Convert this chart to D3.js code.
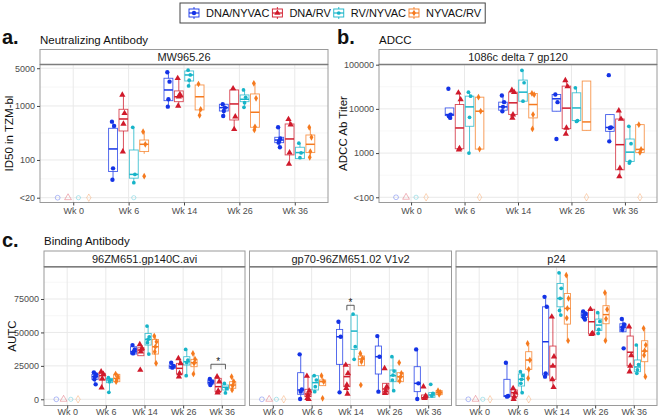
<!DOCTYPE html>
<html><head><meta charset="utf-8">
<script src="https://cdn.jsdelivr.net/npm/d3@7"></script>
<style>body{margin:0;background:#fff;} svg{display:block;font-family:"Liberation Sans",Arial,sans-serif;}</style>
</head><body>
<svg id="chart" width="659" height="417"></svg>
<script>
const groups = ["DNA/NYVAC","DNA/RV","RV/NYVAC","NYVAC/RV"];
const weeks = ["Wk 0","Wk 6","Wk 14","Wk 26","Wk 36"];
const groupColors = ["#1433e6","#d01a2b","#17b4c8","#f57a1f"];

const nabTicks = [20,100,1000,5000];
const nabTickLabels = ["<20","100","1000","5000"];
const adccTicks = [100,1000,10000,100000];
const adccTickLabels = ["<100","1000","10000","100000"];
const bindTicks = [0,25000,50000,75000];
const bindTickLabels = ["0","25000","50000","75000"];

// [week, group, lower whisker, q1, median, q3, upper whisker]
const nabBoxes = [
["Wk 6","DNA/NYVAC",43,61,160,386,512],["Wk 6","DNA/RV",143,344,574,868,1600],
["Wk 6","RV/NYVAC",38,46,54,153,403],["Wk 6","NYVAC/RV",130,143,195,234,334],
["Wk 14","DNA/NYVAC",970,1253,1978,3260,4210],["Wk 14","DNA/RV",1000,1200,1480,1900,3260],
["Wk 14","RV/NYVAC",2350,2900,3750,4450,4600],["Wk 14","NYVAC/RV",671,844,1480,2450,2630],
["Wk 26","DNA/NYVAC",653,807,930,1075,1100],["Wk 26","DNA/RV",370,550,1090,1980,2125],
["Wk 26","RV/NYVAC",945,1200,1330,1600,1980],["Wk 26","NYVAC/RV",360,403,765,1670,2630],
["Wk 36","DNA/NYVAC",172,209,234,263,403],["Wk 36","DNA/RV",84,124,245,464,567],
["Wk 36","RV/NYVAC",104,106,137,172,204],["Wk 36","NYVAC/RV",112,137,195,290,403]
];
const nabPoints = [
["Wk 6","DNA/NYVAC",[512,427,70,43]],["Wk 6","DNA/RV",[1600,733,464,143]],
["Wk 6","RV/NYVAC",[403,54,38]],["Wk 6","NYVAC/RV",[334,195,50]],
["Wk 14","DNA/NYVAC",[4210,2820,1330,970]],["Wk 14","DNA/RV",[3260,1645,1480,1000]],
["Wk 14","RV/NYVAC",[4600,3750,3000,2350]],["Wk 14","NYVAC/RV",[2550,867,671]],
["Wk 26","DNA/NYVAC",[1075,930,807,653]],["Wk 26","DNA/RV",[2100,634,370]],
["Wk 26","RV/NYVAC",[1980,1450,1150,945]],["Wk 26","NYVAC/RV",[2630,1388,410,360]],
["Wk 36","DNA/NYVAC",[403,250,225,209,172]],["Wk 36","DNA/RV",[567,450,137,84]],
["Wk 36","RV/NYVAC",[204,135,110]],["Wk 36","NYVAC/RV",[403,263,143,112]]
];
const nabOpen = [["Wk 0","DNA/NYVAC",20],["Wk 0","DNA/RV",20],["Wk 0","RV/NYVAC",20],["Wk 0","NYVAC/RV",20],["Wk 6","RV/NYVAC",20]];

const adccBoxes = [
["Wk 6","DNA/NYVAC",6240,7050,7430,10500,10500],["Wk 6","DNA/RV",1190,1253,3700,12540,23100],
["Wk 6","RV/NYVAC",1000,4040,11100,19400,23900],["Wk 6","NYVAC/RV",1230,1230,8850,18400,18400],
["Wk 14","DNA/NYVAC",8850,9330,11100,14200,20100],["Wk 14","DNA/RV",6240,7430,13700,23900,26600],
["Wk 14","RV/NYVAC",14900,14900,23900,44800,74300],["Wk 14","NYVAC/RV",3510,6240,12540,22300,22300],
["Wk 26","DNA/NYVAC",8850,8850,16900,21200,21200],["Wk 26","DNA/RV",2700,3570,10400,32700,44000],
["Wk 26","RV/NYVAC",5200,5430,10500,23100,30000],["Wk 26","NYVAC/RV",3270,3270,5070,42600,42600],
["Wk 36","DNA/NYVAC",1840,3100,3800,7430,7430],["Wk 36","DNA/RV",295,418,1550,5900,9150],
["Wk 36","RV/NYVAC",593,647,1050,2080,4040],["Wk 36","NYVAC/RV",1000,1030,1210,4400,4400]
];
const adccPoints = [
["Wk 6","DNA/NYVAC",[28500,7430,7050,6800,6240]],["Wk 6","DNA/RV",[23100,16300,1270,1190]],
["Wk 6","RV/NYVAC",[23900,19400,6460,1000]],["Wk 6","NYVAC/RV",[18400,8850,1230]],
["Wk 14","DNA/NYVAC",[20100,14200,11100,8850]],["Wk 14","DNA/RV",[26600,23900,7430,6240]],
["Wk 14","RV/NYVAC",[74300,39000,14900]],["Wk 14","NYVAC/RV",[22300,21000,7430,3510]],
["Wk 26","DNA/NYVAC",[21200,14200,2080]],["Wk 26","DNA/RV",[44000,32000,3700,2700]],
["Wk 26","RV/NYVAC",[30000,5430,5200]],
["Wk 36","DNA/NYVAC",[58000,3800,3700,1840]],["Wk 36","DNA/RV",[9150,5900,456,295]],
["Wk 36","RV/NYVAC",[4040,1630,647,593]],["Wk 36","NYVAC/RV",[4400,1210,1030]]
];
const adccOpen = [["Wk 0","DNA/NYVAC",100],["Wk 0","DNA/RV",100],["Wk 0","RV/NYVAC",100],["Wk 0","NYVAC/RV",100],
["Wk 6","NYVAC/RV",100],["Wk 26","NYVAC/RV",100],["Wk 36","NYVAC/RV",100]];

const gp140Boxes = [
["Wk 6","DNA/NYVAC",11200,14930,16900,18660,20150],["Wk 6","DNA/RV",8700,14430,17660,19400,20650],
["Wk 6","RV/NYVAC",5220,12440,14430,15670,16170],["Wk 6","NYVAC/RV",13190,13190,15670,18660,19400],
["Wk 14","DNA/NYVAC",33840,33840,35580,39300,40550],["Wk 14","DNA/RV",32590,32590,36820,38560,41050],
["Wk 14","RV/NYVAC",33840,40550,44780,49260,54740],["Wk 14","NYVAC/RV",26870,33840,39300,44780,47270],
["Wk 26","DNA/NYVAC",23140,23140,24380,25630,27370],["Wk 26","DNA/RV",16920,18910,23140,26870,30600],
["Wk 26","RV/NYVAC",17660,25630,28110,31850,37320],["Wk 26","NYVAC/RV",18910,24380,27370,29860,34330],
["Wk 36","DNA/NYVAC",10200,11440,12690,14430,15670],["Wk 36","DNA/RV",4980,5720,9450,15670,17420],
["Wk 36","RV/NYVAC",4470,6950,8970,10690,12400],["Wk 36","NYVAC/RV",6450,8220,10690,13150,16900]
];
const gp140Points = [
["Wk 6","DNA/NYVAC",[20150,18660,16900,14930,11200]],["Wk 6","DNA/RV",[20650,18900,15400,8700]],
["Wk 6","RV/NYVAC",[16170,14430,13200,5220]],["Wk 6","NYVAC/RV",[18900,16900,14430,13190]],
["Wk 14","DNA/NYVAC",[40550,37320,35580,34330]],["Wk 14","DNA/RV",[41050,38070,35580,21900]],
["Wk 14","RV/NYVAC",[54740,46770,44780,42290,33840]],["Wk 14","NYVAC/RV",[47270,43040,39300,35580,26870]],
["Wk 26","DNA/NYVAC",[27370,24880,23640]],["Wk 26","DNA/RV",[30600,26870,19400,16920]],
["Wk 26","RV/NYVAC",[37320,29360,27370,17660]],["Wk 26","NYVAC/RV",[34330,29860,26870,18910]],
["Wk 36","DNA/NYVAC",[15170,13190,11940,10700]],["Wk 36","DNA/RV",[16920,13190,6220,4980]],
["Wk 36","RV/NYVAC",[11900,8000,4800]],["Wk 36","NYVAC/RV",[16900,13150,10200,7000]]
];
const gp140Open = [["Wk 0","DNA/NYVAC",0],["Wk 0","DNA/RV",0],["Wk 0","RV/NYVAC",0],["Wk 0","NYVAC/RV",0]];
const gp140Brackets = [["Wk 36","DNA/NYVAC","RV/NYVAC",26200,"*"]];

const v1v2Boxes = [
["Wk 6","DNA/NYVAC",250,3730,6970,19900,33590],["Wk 6","DNA/RV",0,1990,3980,7460,17420],
["Wk 6","RV/NYVAC",4980,6970,12440,17660,18160],["Wk 6","NYVAC/RV",10200,10200,13190,14430,17660],
["Wk 14","DNA/NYVAC",5220,26120,46770,52250,57970],["Wk 14","DNA/RV",3980,9450,16920,26120,26120],
["Wk 14","RV/NYVAC",29860,37320,51000,62950,63690],["Wk 14","NYVAC/RV",25130,25130,30100,32340,34330],
["Wk 26","DNA/NYVAC",5720,18910,31850,39810,47270],["Wk 26","DNA/RV",3980,3980,7710,11940,11940],
["Wk 26","RV/NYVAC",6470,13190,17660,21900,31850],["Wk 26","NYVAC/RV",13190,13190,16920,19900,19900],
["Wk 36","DNA/NYVAC",250,5720,11940,24380,37320],["Wk 36","DNA/RV",250,250,1240,3230,3230],
["Wk 36","RV/NYVAC",1490,1490,3230,4980,4980],["Wk 36","NYVAC/RV",3480,3480,4980,6470,6470]
];
const v1v2Points = [
["Wk 6","DNA/NYVAC",[33590,7460,5720,250]],["Wk 6","DNA/RV",[17420,6220,3230,750,0]],
["Wk 6","RV/NYVAC",[17660,14430,9450,5720]],["Wk 6","NYVAC/RV",[17660,13190,750]],
["Wk 14","DNA/NYVAC",[57970,46770,5220]],["Wk 14","DNA/RV",[25630,19400,10700,8210,3980]],
["Wk 14","RV/NYVAC",[63690,39300,29860]],["Wk 14","NYVAC/RV",[34330,30600,28110,10700]],
["Wk 26","DNA/NYVAC",[47270,31850,5720]],["Wk 26","DNA/RV",[23140,9450,6470,4480]],
["Wk 26","RV/NYVAC",[31850,21150,18160,14430,6470]],["Wk 26","NYVAC/RV",[27370,19400,16420,13680]],
["Wk 36","DNA/NYVAC",[37320,11940,250]],["Wk 36","DNA/RV",[9450,2490,750]],
["Wk 36","RV/NYVAC",[11200,4480,2490]],["Wk 36","NYVAC/RV",[6470,5220,3730]]
];
const v1v2Open = [["Wk 0","DNA/NYVAC",0],["Wk 0","DNA/RV",0],["Wk 0","RV/NYVAC",0],["Wk 0","NYVAC/RV",0]];
const v1v2Brackets = [["Wk 14","DNA/RV","RV/NYVAC",70300,"*"]];

const p24Boxes = [
["Wk 6","DNA/NYVAC",1990,1990,2490,14930,27370],["Wk 6","DNA/RV",0,1990,4980,6970,8210],
["Wk 6","RV/NYVAC",4980,9950,14930,18910,20650],["Wk 6","NYVAC/RV",15670,22390,29360,35580,41800],
["Wk 14","DNA/NYVAC",16920,18160,43040,69170,76630],["Wk 14","DNA/RV",8960,14930,24880,39810,61700],
["Wk 14","RV/NYVAC",62950,69170,75390,86580,94540],["Wk 14","NYVAC/RV",43790,56230,67920,79120,92800],
["Wk 26","DNA/NYVAC",59710,61210,62950,64690,65680],["Wk 26","DNA/RV",48770,48770,58000,67300,67300],
["Wk 26","RV/NYVAC",49260,51500,55500,60000,64760],["Wk 26","NYVAC/RV",43820,56500,63300,70000,79720],
["Wk 36","DNA/NYVAC",50000,50500,54000,56500,60000],["Wk 36","DNA/RV",20640,25000,35200,47300,54300],
["Wk 36","RV/NYVAC",19440,20650,24200,29400,40600],["Wk 36","NYVAC/RV",16900,28110,36000,43800,53100]
];
const p24Points = [
["Wk 6","DNA/NYVAC",[27370,2490,1990]],["Wk 6","DNA/RV",[8210,4980,1990,0]],
["Wk 6","RV/NYVAC",[20650,17660,14930,11940,4980]],["Wk 6","NYVAC/RV",[41800,29360,22390,15670]],
["Wk 14","DNA/NYVAC",[76630,69170,19400,16920]],["Wk 14","DNA/RV",[61700,31850,24880,14930,8960]],
["Wk 14","RV/NYVAC",[94540,83000,75390,66420,62950]],["Wk 14","NYVAC/RV",[92800,75390,67920,60700,43790]],
["Wk 26","DNA/NYVAC",[65680,64190,62950,61210,59710]],["Wk 26","DNA/RV",[67300,49260,48770]],
["Wk 26","RV/NYVAC",[64760,58230,52240,49260]],["Wk 26","NYVAC/RV",[79720,67180,60210,43820]],
["Wk 36","DNA/NYVAC",[60000,56000,54000,52000,38100]],["Wk 36","DNA/RV",[54300,32800,25000,20640]],
["Wk 36","RV/NYVAC",[40600,26000,22000,19440]],["Wk 36","NYVAC/RV",[53100,40600,36340,33000,16900]]
];
const p24Open = [["Wk 0","DNA/NYVAC",0],["Wk 0","DNA/RV",0],["Wk 0","RV/NYVAC",0],["Wk 0","NYVAC/RV",0],["Wk 6","NYVAC/RV",0]];

// ---------- drawing ----------
const svg = d3.select("#chart");
const color = d3.scaleOrdinal().domain(groups).range(groupColors);
const shape = d3.scaleOrdinal().domain(groups).range([d3.symbolCircle, d3.symbolTriangle, d3.symbolCircle, d3.symbolDiamond]);
const shapeSize = d3.scaleOrdinal().domain(groups).range([15, 17, 11, 13]);
const jit = [-1.1, 1.1, 0, -0.6, 0.7];

function drawPanel(c) {
  const g = svg.append("g");
  const x = d3.scalePoint().domain(weeks).range([c.x0, c.x1]).padding(0.6);
  const step = x.step();
  const dx = d3.scalePoint().domain(groups).range([-0.28125 * step, 0.28125 * step]);
  const y = c.scale.range([c.y1, c.y0]);
  const bw = 0.16 * step;

  g.append("rect").attr("x", c.x0).attr("y", c.y0).attr("width", c.x1 - c.x0).attr("height", c.y1 - c.y0).attr("fill", "#fff");
  g.selectAll(".mn").data(c.minor).join("line")
    .attr("x1", c.x0).attr("x2", c.x1).attr("y1", d => y(d)).attr("y2", d => y(d))
    .attr("stroke", "#f2f2f2").attr("stroke-width", 0.6);
  g.selectAll(".mj").data(c.ticks).join("line")
    .attr("x1", c.x0).attr("x2", c.x1).attr("y1", d => y(d)).attr("y2", d => y(d))
    .attr("stroke", "#e9e9e9").attr("stroke-width", 1);
  g.selectAll(".vx").data(weeks).join("line")
    .attr("x1", d => x(d)).attr("x2", d => x(d)).attr("y1", c.y0).attr("y2", c.y1)
    .attr("stroke", "#e9e9e9").attr("stroke-width", 1);

  const bx = g.selectAll(".box").data(c.boxes).join("g");
  bx.append("line")
    .attr("x1", d => x(d[0]) + dx(d[1])).attr("x2", d => x(d[0]) + dx(d[1]))
    .attr("y1", d => y(d[2])).attr("y2", d => y(d[6]))
    .attr("stroke", d => color(d[1])).attr("stroke-opacity", 0.85).attr("stroke-width", 0.9);
  bx.append("rect")
    .attr("x", d => x(d[0]) + dx(d[1]) - bw / 2).attr("width", bw)
    .attr("y", d => y(d[5])).attr("height", d => Math.max(0.5, y(d[3]) - y(d[5])))
    .attr("fill", "#fff").attr("stroke", d => color(d[1])).attr("stroke-opacity", 0.8).attr("stroke-width", 0.9);
  bx.append("line")
    .attr("x1", d => x(d[0]) + dx(d[1]) - bw / 2).attr("x2", d => x(d[0]) + dx(d[1]) + bw / 2)
    .attr("y1", d => y(d[4])).attr("y2", d => y(d[4]))
    .attr("stroke", d => color(d[1])).attr("stroke-width", 1.5);

  const pts = [];
  c.points.forEach(r => r[2].forEach((v, i) => pts.push({w: r[0], gname: r[1], v, i})));
  g.selectAll(".pt").data(pts).join("path")
    .attr("d", d => d3.symbol().type(shape(d.gname)).size(shapeSize(d.gname))())
    .attr("transform", d => `translate(${x(d.w) + dx(d.gname) + jit[d.i % 5]},${y(d.v)})`)
    .attr("fill", d => color(d.gname));
  g.selectAll(".op").data(c.open).join("path")
    .attr("d", d => d3.symbol().type(shape(d[1])).size(shapeSize(d[1]) + 3)())
    .attr("transform", d => `translate(${x(d[0]) + dx(d[1])},${y(d[2])})`)
    .attr("fill", "none").attr("stroke", d => color(d[1])).attr("stroke-opacity", 0.4).attr("stroke-width", 0.8);

  (c.brackets || []).forEach(b => {
    const xa = x(b[0]) + dx(b[1]), xb = x(b[0]) + dx(b[2]), yb = y(b[3]);
    g.append("path").attr("d", `M${xa},${yb + 5}V${yb}H${xb}V${yb + 5}`)
      .attr("fill", "none").attr("stroke", "#333").attr("stroke-width", 0.8);
    g.append("text").attr("x", (xa + xb) / 2).attr("y", yb + 1).attr("text-anchor", "middle")
      .attr("font-size", 10).attr("fill", "#222").text(b[4]);
  });

  g.append("rect").attr("x", c.x0).attr("y", c.y0).attr("width", c.x1 - c.x0).attr("height", c.y1 - c.y0)
    .attr("fill", "none").attr("stroke", "#9a9a9a").attr("stroke-width", 1);
  g.append("rect").attr("x", c.x0).attr("y", c.stripTop).attr("width", c.x1 - c.x0).attr("height", c.y0 - c.stripTop)
    .attr("fill", "#fff").attr("stroke", "#9a9a9a").attr("stroke-width", 1);
  g.append("line").attr("x1", c.x0).attr("x2", c.x1).attr("y1", c.y0).attr("y2", c.y0).attr("stroke", "#7d7d7d").attr("stroke-width", 1.5);
  g.append("text").attr("x", (c.x0 + c.x1) / 2).attr("y", (c.stripTop + c.y0) / 2 + 4)
    .attr("text-anchor", "middle").attr("font-size", 11).attr("fill", "#1a1a1a").text(c.strip);

  if (c.showY) {
    const ay = g.append("g").attr("transform", `translate(${c.x0},0)`)
      .call(d3.axisLeft(y).tickValues(c.ticks).tickFormat((d, i) => c.labels[i]).tickSize(3).tickPadding(2));
    ay.select(".domain").remove();
    ay.selectAll("line").attr("stroke", "#444");
    ay.selectAll("text").attr("fill", "#4d4d4d").attr("font-size", 9).attr("font-family", "Liberation Sans, Arial, sans-serif");
  }
  const ax = g.append("g").attr("transform", `translate(0,${c.y1})`)
    .call(d3.axisBottom(x).tickSize(3).tickPadding(c.xpad));
  ax.select(".domain").remove();
  ax.selectAll("line").attr("stroke", "#444");
  ax.selectAll("text").attr("fill", "#4d4d4d").attr("font-size", 9).attr("font-family", "Liberation Sans, Arial, sans-serif");
}

function midsLog(t) { const m = []; for (let i = 0; i < t.length - 1; i++) m.push(Math.sqrt(t[i] * t[i + 1])); return m; }
function midsLin(t) { const m = []; for (let i = 0; i < t.length - 1; i++) m.push((t[i] + t[i + 1]) / 2); m.push(t[t.length - 1] + (t[1] - t[0]) / 2); return m; }

drawPanel({x0: 40, x1: 328, stripTop: 49.5, y0: 64.5, y1: 202.5, strip: "MW965.26",
  scale: d3.scaleLog().domain([16.3, 5860]), ticks: nabTicks, labels: nabTickLabels, minor: midsLog(nabTicks),
  boxes: nabBoxes, points: nabPoints, open: nabOpen, showY: true, xpad: 2});
drawPanel({x0: 379, x1: 657, stripTop: 49.5, y0: 64.5, y1: 202.5, strip: "1086c delta 7 gp120",
  scale: d3.scaleLog().domain([76.2, 100900]), ticks: adccTicks, labels: adccTickLabels, minor: midsLog(adccTicks),
  boxes: adccBoxes, points: adccPoints, open: adccOpen, showY: true, xpad: 2});
const bindDomain = [-4640, 99150];
drawPanel({x0: 44, x1: 245, stripTop: 251, y0: 266.7, y1: 405.5, strip: "96ZM651.gp140C.avi",
  scale: d3.scaleLinear().domain(bindDomain), ticks: bindTicks, labels: bindTickLabels, minor: midsLin(bindTicks),
  boxes: gp140Boxes, points: gp140Points, open: gp140Open, brackets: gp140Brackets, showY: true, xpad: 0});
drawPanel({x0: 249.5, x1: 451.5, stripTop: 251, y0: 266.7, y1: 405.5, strip: "gp70-96ZM651.02 V1v2",
  scale: d3.scaleLinear().domain(bindDomain), ticks: bindTicks, labels: bindTickLabels, minor: midsLin(bindTicks),
  boxes: v1v2Boxes, points: v1v2Points, open: v1v2Open, brackets: v1v2Brackets, showY: false, xpad: 0});
drawPanel({x0: 456, x1: 657, stripTop: 251, y0: 266.7, y1: 405.5, strip: "p24",
  scale: d3.scaleLinear().domain(bindDomain), ticks: bindTicks, labels: bindTickLabels, minor: midsLin(bindTicks),
  boxes: p24Boxes, points: p24Points, open: p24Open, showY: false, xpad: 0});

function txt(x, y, s, size, opts = {}) {
  const t = svg.append("text").attr("x", x).attr("y", y).attr("font-size", size).attr("fill", opts.fill || "#111").text(s);
  if (opts.bold) t.attr("font-weight", "bold");
  if (opts.rotate) t.attr("transform", `rotate(-90,${x},${y})`).attr("text-anchor", "middle");
  return t;
}
txt(2, 43.5, "a.", 20, {bold: true});
txt(40, 44, "Neutralizing Antibody", 11.5);
txt(337, 43.5, "b.", 20, {bold: true});
txt(379, 44, "ADCC", 11.5);
txt(2, 247, "c.", 20, {bold: true});
txt(44, 245, "Binding Antibody", 11.5);
txt(13, 133.5, "ID50 in TZM-bl", 11.5, {rotate: true});
txt(347, 133.5, "ADCC Ab Titer", 11.5, {rotate: true});
txt(16, 336, "AUTC", 11.5, {rotate: true});

const lg = svg.append("g");
const lgBox = lg.append("rect").attr("x", 180).attr("y", 3).attr("height", 20).attr("fill", "#fff").attr("stroke", "#444").attr("stroke-width", 1);
let cur = 188;
const cy = 13;
groups.forEach(gname => {
  const kx = cur + 6;
  lg.append("line").attr("x1", kx).attr("x2", kx).attr("y1", cy - 6).attr("y2", cy + 6).attr("stroke", color(gname)).attr("stroke-width", 0.9);
  lg.append("rect").attr("x", kx - 5).attr("y", cy - 4).attr("width", 10).attr("height", 8).attr("fill", "#fff").attr("stroke", color(gname)).attr("stroke-width", 0.9);
  lg.append("line").attr("x1", kx - 5).attr("x2", kx + 5).attr("y1", cy).attr("y2", cy).attr("stroke", color(gname)).attr("stroke-width", 1.2);
  lg.append("path").attr("d", d3.symbol().type(shape(gname)).size(shapeSize(gname))()).attr("transform", `translate(${kx},${cy})`).attr("fill", color(gname));
  const t = lg.append("text").attr("x", cur + 18).attr("y", cy + 4).attr("font-size", 11).attr("fill", "#111").text(gname);
  cur = cur + 18 + t.node().getComputedTextLength() + 2;
});
lgBox.attr("width", cur + 2 - 180);
</script>
</body></html>
